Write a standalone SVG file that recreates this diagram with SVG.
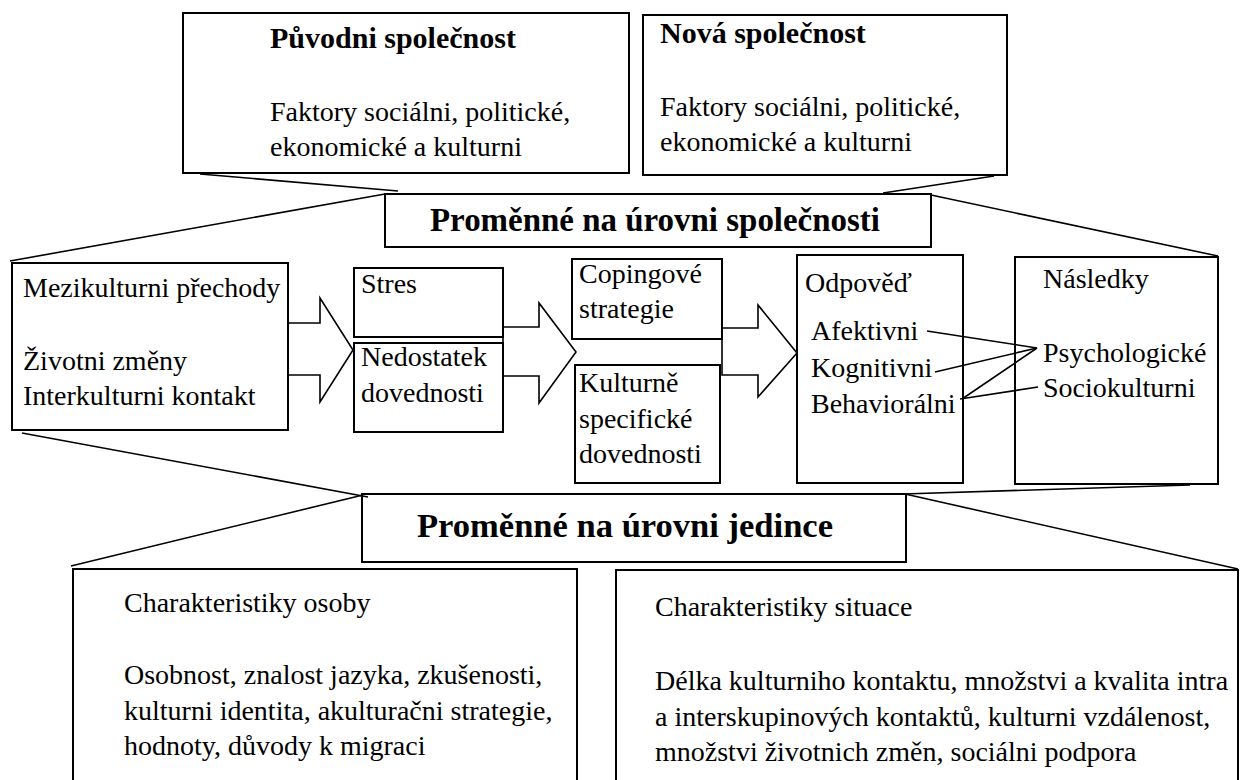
<svg xmlns="http://www.w3.org/2000/svg" width="1241" height="780" viewBox="0 0 1241 780">
<style>
  .box { fill: #ffffff; stroke: #000000; stroke-width: 2; }
  .ln { fill: none; stroke: #000000; stroke-width: 1.6; }
  .arr { fill: none; stroke: #000000; stroke-width: 1.6; stroke-linejoin: miter; }
  text { font-family: "Liberation Serif", "Times New Roman", serif; fill: #000000; }
  .t { font-size: 28px; }
  .b { font-size: 30px; font-weight: bold; }
  .big { font-size: 33px; font-weight: bold; }
</style>
<rect width="1241" height="780" fill="#ffffff"/>

<g id="puvodni">
  <rect class="box" x="183" y="13" width="446" height="160"/>
  <text class="b" x="270" y="48">Původni společnost</text>
  <text class="t" x="270" y="121">Faktory sociálni, politické,</text>
  <text class="t" x="270" y="156">ekonomické a kulturni</text>
</g>

<g id="nova">
  <rect class="box" x="643" y="15" width="364" height="160"/>
  <text class="b" x="660" y="43">Nová společnost</text>
  <text class="t" x="660" y="116">Faktory sociálni, politické,</text>
  <text class="t" x="660" y="151">ekonomické a kulturni</text>
</g>

<g id="spolecnost">
  <rect class="box" x="385" y="194" width="546" height="53"/>
  <text class="big" x="430" y="231" textLength="450" lengthAdjust="spacingAndGlyphs">Proměnné na úrovni společnosti</text>
</g>

<g id="mezikulturni">
  <rect class="box" x="12" y="263" width="276" height="167"/>
  <text class="t" x="23" y="297">Mezikulturni přechody</text>
  <text class="t" x="23" y="370">Životni změny</text>
  <text class="t" x="23" y="405">Interkulturni kontakt</text>
</g>

<g id="stres">
  <rect class="box" x="354" y="268" width="149" height="69"/>
  <text class="t" x="361" y="293">Stres</text>
</g>

<g id="nedostatek">
  <rect class="box" x="354" y="343" width="149" height="89"/>
  <text class="t" x="361" y="366">Nedostatek</text>
  <text class="t" x="361" y="402">dovednosti</text>
</g>

<g id="coping">
  <rect class="box" x="572" y="259" width="150" height="80"/>
  <text class="t" x="579" y="283">Copingové</text>
  <text class="t" x="579" y="318">strategie</text>
</g>

<g id="kulturne">
  <rect class="box" x="575" y="365" width="145" height="118"/>
  <text class="t" x="579" y="392">Kulturně</text>
  <text class="t" x="579" y="428">specifické</text>
  <text class="t" x="579" y="463">dovednosti</text>
</g>

<g id="odpoved">
  <rect class="box" x="797" y="255" width="166" height="228"/>
  <text class="t" x="805" y="292">Odpověď</text>
  <text class="t" x="811" y="340">Afektivni</text>
  <text class="t" x="811" y="377">Kognitivni</text>
  <text class="t" x="811" y="413">Behaviorálni</text>
</g>

<g id="nasledky">
  <rect class="box" x="1015" y="257" width="203" height="227"/>
  <text class="t" x="1043" y="288">Následky</text>
  <text class="t" x="1043" y="362">Psychologické</text>
  <text class="t" x="1043" y="397">Sociokulturni</text>
</g>

<g id="jedince">
  <rect class="box" x="362" y="494" width="544" height="68"/>
  <text class="big" x="417" y="537" textLength="416" lengthAdjust="spacingAndGlyphs">Proměnné na úrovni jedince</text>
</g>

<g id="osoba">
  <rect class="box" x="73" y="569" width="504" height="230"/>
  <text class="t" x="124" y="612">Charakteristiky osoby</text>
  <text class="t" x="124" y="684">Osobnost, znalost jazyka, zkušenosti,</text>
  <text class="t" x="124" y="720">kulturni identita, akulturačni strategie,</text>
  <text class="t" x="124" y="755">hodnoty, důvody k migraci</text>
</g>

<g id="situace">
  <rect class="box" x="616" y="570" width="622" height="230"/>
  <text class="t" x="655" y="616">Charakteristiky situace</text>
  <text class="t" x="655" y="690">Délka kulturniho kontaktu, množstvi a kvalita intra</text>
  <text class="t" x="655" y="726">a interskupinových kontaktů, kulturni vzdálenost,</text>
  <text class="t" x="655" y="761">množstvi životnich změn, sociálni podpora</text>
</g>

<g id="connectors">
  <!-- top funnel -->
  <line class="ln" x1="200" y1="174" x2="398" y2="191"/>
  <line class="ln" x1="385" y1="194" x2="10" y2="261"/>
  <line class="ln" x1="994" y1="176" x2="883" y2="193"/>
  <line class="ln" x1="931" y1="195" x2="1218" y2="256"/>
  <!-- bottom funnel -->
  <line class="ln" x1="22" y1="433" x2="368" y2="497"/>
  <line class="ln" x1="363" y1="495" x2="71" y2="566"/>
  <line class="ln" x1="1190" y1="485" x2="903" y2="494"/>
  <line class="ln" x1="905" y1="494" x2="1238" y2="569"/>
  <!-- block arrows -->
  <path class="arr" d="M288,323 H320 V298 L353,350 L320,402 V375 H288 Z"/>
  <path class="arr" d="M503,327 H539 V303 L576,352 L539,403 V376 H503 Z"/>
  <path class="arr" d="M722,328 H758 V305 L797,353 L758,397 V375 H722 Z"/>
  <!-- response to outcomes -->
  <line class="ln" x1="927" y1="331" x2="1037" y2="348"/>
  <line class="ln" x1="935" y1="372" x2="1037" y2="348"/>
  <line class="ln" x1="962" y1="399" x2="1037" y2="348"/>
  <line class="ln" x1="960" y1="399" x2="1038" y2="387"/>
</g>
</svg>
